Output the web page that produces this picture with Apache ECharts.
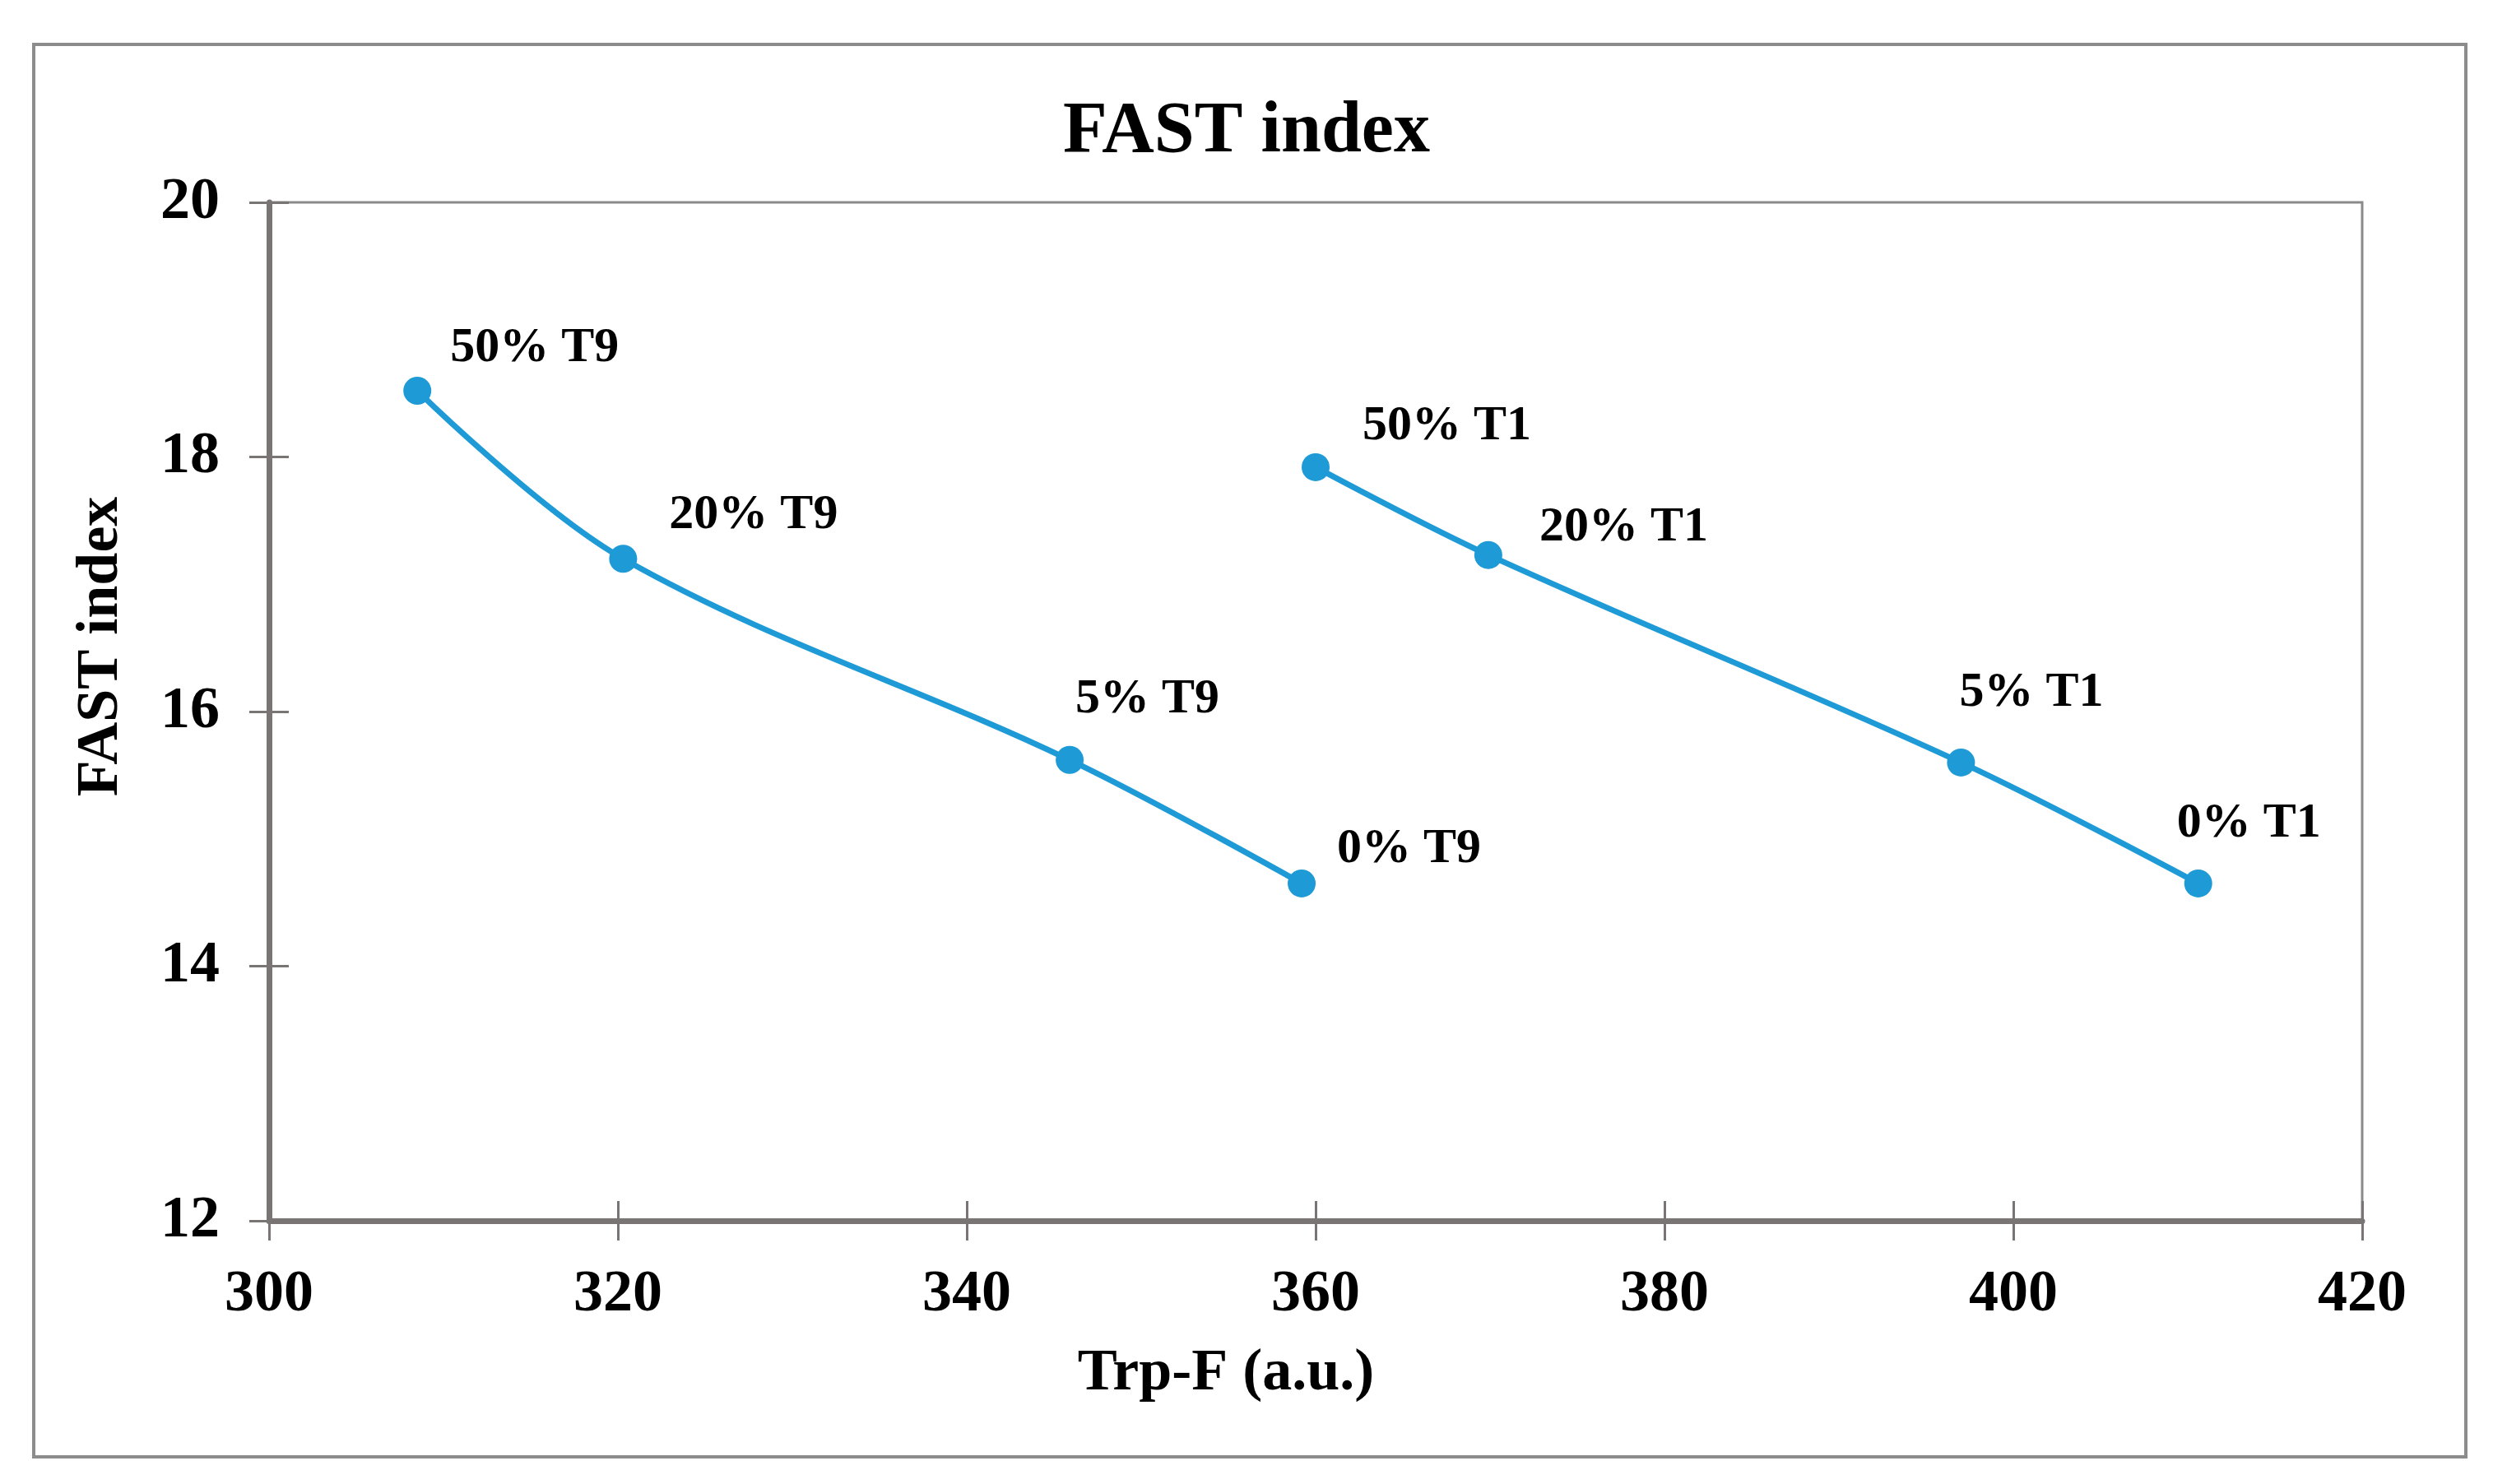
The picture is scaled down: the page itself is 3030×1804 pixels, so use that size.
<!DOCTYPE html>
<html>
<head>
<meta charset="utf-8">
<script src="https://cdn.jsdelivr.net/npm/echarts@6/dist/echarts.min.js"></script>
<style>
html,body{margin:0;padding:0;background:#fff;}
#chart{width:3030px;height:1804px;}
</style>
</head>
<body>
<div id="chart"></div>
<script>
// ---- data ----
const t9Labels = ['50% T9', '20% T9', '5% T9', '0% T9'];
const t9X = [308.5, 320.3, 345.9, 359.2];
const t9Y = [18.52, 17.20, 15.62, 14.65];
const t1Labels = ['50% T1', '20% T1', '5% T1', '0% T1'];
const t1X = [360.0, 369.9, 397.0, 410.6];
const t1Y = [17.92, 17.23, 15.60, 14.65];
const xTicks = [300, 320, 340, 360, 380, 400, 420];
const yTicks = [12, 14, 16, 18, 20];

// ---- label placement (style) ----
const t9Offsets = [[40, -52], [56, -53], [7, -73], [43, -41]];
const t1Offsets = [[57, -49], [62, -33], [-2, -84], [-26, -72]];

const FONT = '"Liberation Serif", "Times New Roman", serif';
const BLUE = '#1E9AD6';
const AXIS = '#7a7575';

function buildData(xs, ys, labels, offsets) {
  return xs.map((x, i) => ({
    value: [x, ys[i]],
    name: labels[i],
    label: { offset: offsets[i] }
  }));
}

function series(name, xs, ys, labels, offsets) {
  return {
    name: name,
    type: 'line',
    smooth: 0.35,
    symbol: 'circle',
    symbolSize: 34,
    xAxisIndex: 0,
    yAxisIndex: 0,
    lineStyle: { color: BLUE, width: 7 },
    itemStyle: { color: BLUE },
    label: {
      show: true,
      position: 'inside',
      align: 'left',
      verticalAlign: 'middle',
      formatter: p => p.name,
      fontFamily: FONT,
      fontWeight: 'bold',
      fontSize: 60,
      color: '#000'
    },
    data: buildData(xs, ys, labels, offsets)
  };
}

const xMin = xTicks[0], xMax = xTicks[xTicks.length - 1];
const yMin = yTicks[0], yMax = yTicks[yTicks.length - 1];
const xStep = xTicks[1] - xTicks[0];
const yStep = yTicks[1] - yTicks[0];

const chart = echarts.init(document.getElementById('chart'));
chart.setOption({
  backgroundColor: '#fff',
  animation: false,
  title: {
    text: 'FAST index',
    left: 'center',
    top: 112,
    textStyle: { fontFamily: FONT, fontWeight: 'bold', fontSize: 88, color: '#000' }
  },
  graphic: [{
    type: 'rect',
    shape: { x: 41, y: 54, width: 2956, height: 1717 },
    style: { fill: 'none', stroke: '#8c8c8c', lineWidth: 4 },
    silent: true
  }],
  grid: {
    left: 327, right: 159, top: 246, bottom: 320,
    show: true, borderColor: '#8a8a8a', borderWidth: 3, backgroundColor: 'transparent'
  },
  xAxis: [{
    type: 'value', position: 'bottom',
    min: xMin, max: xMax, interval: xStep,
    name: 'Trp-F (a.u.)',
    nameLocation: 'middle',
    nameGap: 150,
    nameTextStyle: { fontFamily: FONT, fontWeight: 'bold', fontSize: 72, color: '#000', padding: [0, 218, 0, 0] },
    axisLine: { show: true, lineStyle: { color: AXIS, width: 7 } },
    axisTick: { show: true, inside: false, length: 24, lineStyle: { color: AXIS, width: 3 } },
    axisLabel: { margin: 54, fontFamily: FONT, fontWeight: 'bold', fontSize: 72, color: '#000' },
    splitLine: { show: false }
  }, {
    type: 'value', position: 'bottom',
    min: xMin, max: xMax, interval: xStep,
    axisLine: { show: false },
    axisTick: { show: true, inside: true, length: 24, lineStyle: { color: AXIS, width: 3 } },
    axisLabel: { show: false },
    splitLine: { show: false }
  }],
  yAxis: [{
    type: 'value', position: 'left',
    min: yMin, max: yMax, interval: yStep,
    name: 'FAST index',
    nameLocation: 'middle',
    nameGap: 168,
    nameRotate: 90,
    nameTextStyle: { fontFamily: FONT, fontWeight: 'bold', fontSize: 72, color: '#000', padding: [0, 0, 0, 158] },
    axisLine: { show: true, lineStyle: { color: AXIS, width: 7 } },
    axisTick: { show: true, inside: false, length: 24, lineStyle: { color: AXIS, width: 3 } },
    axisLabel: { margin: 60, fontFamily: FONT, fontWeight: 'bold', fontSize: 72, color: '#000' },
    splitLine: { show: false }
  }, {
    type: 'value', position: 'left',
    min: yMin, max: yMax, interval: yStep,
    axisLine: { show: false },
    axisTick: { show: true, inside: true, length: 24, lineStyle: { color: AXIS, width: 3 } },
    axisLabel: { show: false },
    splitLine: { show: false }
  }],
  series: [
    series('T9', t9X, t9Y, t9Labels, t9Offsets),
    series('T1', t1X, t1Y, t1Labels, t1Offsets)
  ]
});
</script>
</body>
</html>
